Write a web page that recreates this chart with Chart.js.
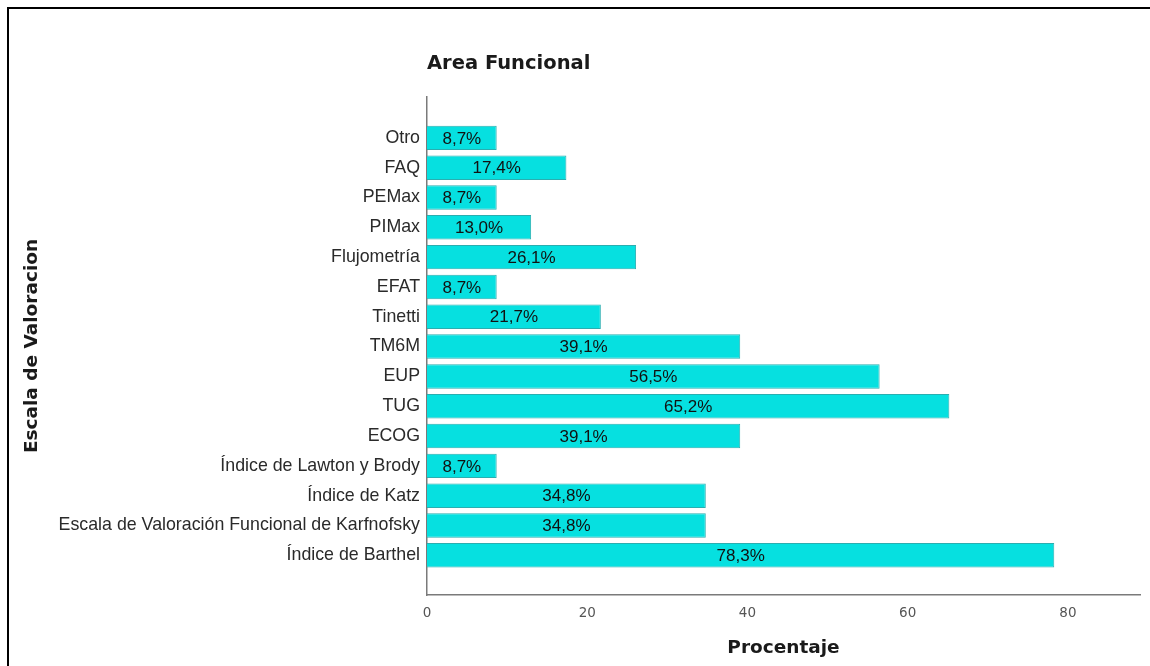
<!DOCTYPE html>
<html>
<head>
<meta charset="utf-8">
<script src="https://cdn.jsdelivr.net/npm/chart.js@4.4.1/dist/chart.umd.min.js"></script>
<style>
  html, body { margin: 0; padding: 0; background: #fff; }
  #wrap { width: 1150px; height: 666px; position: relative; }
</style>
</head>
<body>
<div id="wrap"><canvas id="c" width="1150" height="666"></canvas></div>
<script>
// Assessment scales, top to bottom
const categories = [
  'Otro', 'FAQ', 'PEMax', 'PIMax', 'Flujometría', 'EFAT', 'Tinetti', 'TM6M',
  'EUP', 'TUG', 'ECOG', 'Índice de Lawton y Brody', 'Índice de Katz',
  'Escala de Valoración Funcional de Karfnofsky', 'Índice de Barthel'
];
// Percentage of use for each scale
const percentages = [8.7, 17.4, 8.7, 13.0, 26.1, 8.7, 21.7, 39.1, 56.5, 65.2, 39.1, 8.7, 34.8, 34.8, 78.3];
const xTicks = [0, 20, 40, 60, 80];

const fmt = v => v.toFixed(1).replace('.', ',') + '%';
const axisTitleFont = { family: '"DejaVu Sans", sans-serif', size: 18.5, weight: 'bold' };

// Outer frame (top and left rules)
const framePlugin = {
  id: 'frame',
  beforeDraw(chart) {
    const ctx = chart.ctx;
    ctx.save();
    ctx.fillStyle = '#fff';
    ctx.fillRect(0, 0, chart.width, chart.height);
    ctx.fillStyle = '#000';
    ctx.fillRect(7, 7, chart.width - 7, 2);
    ctx.fillRect(7, 7, 2, chart.height - 7);
    ctx.restore();
  }
};

// Value text centred inside each bar
const barLabels = {
  id: 'barLabels',
  afterDatasetsDraw(chart) {
    const ctx = chart.ctx;
    const meta = chart.getDatasetMeta(0);
    ctx.save();
    ctx.font = '17px "Liberation Sans", Arial, sans-serif';
    ctx.fillStyle = '#111';
    ctx.textAlign = 'center';
    ctx.textBaseline = 'middle';
    meta.data.forEach((bar, i) => {
      const v = chart.data.datasets[0].data[i].x;
      ctx.fillText(fmt(v), (bar.x + bar.base) / 2, bar.y + 1);
    });
    ctx.restore();
  }
};

new Chart(document.getElementById('c'), {
  type: 'bar',
  data: {
    datasets: [{
      data: percentages.map((v, i) => ({ x: v, y: i })),
      backgroundColor: '#06e0e0',
      borderColor: '#2aaeb0',
      borderWidth: 1,
      barPercentage: 0.82,
      categoryPercentage: 1
    }]
  },
  options: {
    indexAxis: 'y',
    responsive: false,
    animation: false,
    layout: { padding: { left: 14, right: 10, top: 0, bottom: 0 } },
    plugins: {
      legend: { display: false },
      tooltip: { enabled: false },
      title: {
        display: true,
        text: 'Area Funcional',
        align: 'start',
        fullSize: false,
        color: '#1a1a1a',
        font: { family: '"DejaVu Sans", sans-serif', size: 19.5, weight: 'bold' },
        padding: { top: 52, bottom: 21.6 }
      }
    },
    scales: {
      x: {
        type: 'linear',
        bounds: 'data',
        offset: false,
        min: 0,
        max: 89,
        grid: { display: false, drawTicks: false },
        border: { display: true, color: '#7a7a7a', width: 1.5 },
        afterBuildTicks: s => { s.ticks = xTicks.map(v => ({ value: v })); },
        afterFit: s => { s.height = 71; },
        ticks: {
          color: '#555',
          padding: 10,
          font: { family: '"DejaVu Sans", sans-serif', size: 13.5 }
        },
        title: {
          display: true,
          text: 'Procentaje',
          color: '#1a1a1a',
          font: axisTitleFont,
          padding: { top: 0, bottom: 7 }
        }
      },
      y: {
        type: 'linear',
        bounds: 'data',
        offset: false,
        reverse: true,
        min: -1.37,
        max: 15.33,
        grid: { display: false, drawTicks: false },
        border: { display: true, color: '#7a7a7a', width: 1.5 },
        afterBuildTicks: s => { s.ticks = categories.map((_, i) => ({ value: i })); },
        afterFit: s => { s.width = 413; },
        ticks: {
          autoSkip: false,
          color: '#2a2a2a',
          padding: 7,
          font: { family: '"Liberation Sans", Arial, sans-serif', size: 17.8 },
          callback: v => categories[v]
        },
        title: {
          display: true,
          text: 'Escala de Valoracion',
          color: '#1a1a1a',
          font: axisTitleFont,
          padding: { top: 7, bottom: 0 }
        }
      }
    }
  },
  plugins: [framePlugin, barLabels]
});
</script>
</body>
</html>
